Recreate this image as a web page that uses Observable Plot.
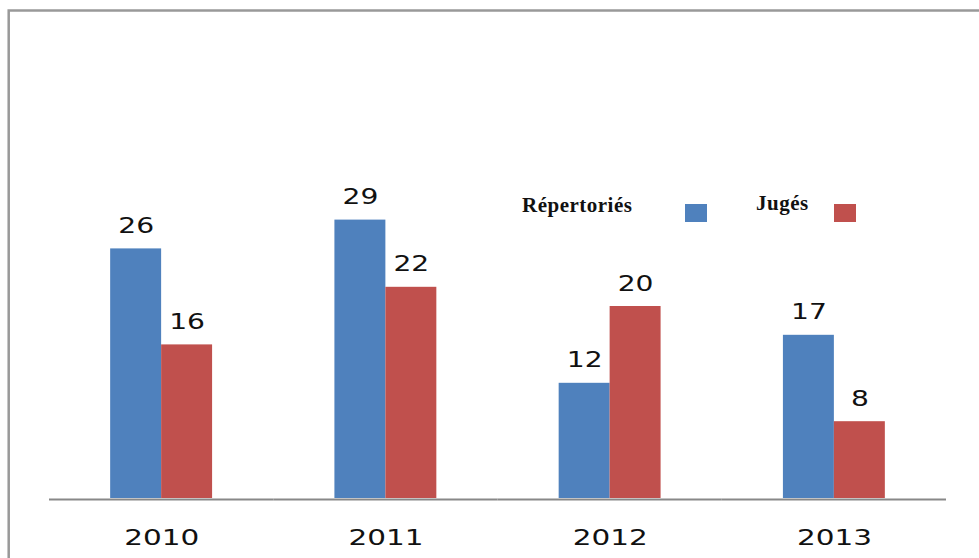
<!DOCTYPE html>
<html>
<head>
<meta charset="utf-8">
<script src="https://cdn.jsdelivr.net/npm/d3@7"></script>
<script src="https://cdn.jsdelivr.net/npm/@observablehq/plot@0.6"></script>
<style>
  html, body { margin: 0; padding: 0; background: #fff; overflow: hidden; }
  #chart { position: relative; width: 979px; height: 558px; }
</style>
</head>
<body>
<div id="chart"></div>
<script>
const years = ["2010", "2011", "2012", "2013"];
const repertories = [26, 29, 12, 17];
const juges = [16, 22, 20, 8];
const seriesNames = ["Répertoriés", "Jugés"];
const seriesColors = ["#4f81bd", "#c0504d"];

const data = years.flatMap((yr, i) => [
  {year: yr, series: seriesNames[0], value: repertories[i]},
  {year: yr, series: seriesNames[1], value: juges[i]}
]);

const chart = Plot.plot({
  width: 979,
  height: 558,
  marginLeft: 49,
  marginRight: 33,
  marginTop: 114,
  marginBottom: 60,
  style: {fontFamily: "'DejaVu Sans', sans-serif", background: "white", color: "black"},
  fx: {domain: years, padding: 0, label: null, axis: null, round: false},
  x: {domain: seriesNames, paddingInner: 0, paddingOuter: 1.2, axis: null, round: false},
  y: {domain: [0, 40], axis: null},
  color: {domain: seriesNames, range: seriesColors},
  marks: [
    Plot.barY(data, {fx: "year", x: "series", y: "value", fill: "series"}),
    Plot.text(data, {
      fx: "year", x: "series", y: "value",
      text: d => String(d.value),
      lineAnchor: "bottom", dy: -16,
      fontSize: 21, fill: "#111"
    }),
    Plot.ruleY([0], {stroke: "#888", strokeWidth: 2, dy: 1}),
    // year labels under each group
    Plot.text(years, {
      fx: d => d, text: d => d,
      frameAnchor: "bottom", lineAnchor: "bottom", dy: 46,
      fontSize: 22, fill: "#111"
    })
  ]
});

const svg = d3.select(chart);

// horizontally stretch the numeric labels (reference font is wide)
svg.selectAll('g[aria-label="text"] text').each(function () {
  const t = d3.select(this);
  const x = t.attr("x"), y = t.attr("y");
  let tr = t.attr("transform") || "";
  if (x != null || y != null) {
    tr = `${tr} translate(${x || 0},${y || 0})`;
    t.attr("x", null).attr("y", null);
  }
  t.attr("transform", `${tr} scale(1.34,1)`);
});

// frame border
svg.append("rect")
  .attr("x", 8.7).attr("y", 10.5)
  .attr("width", 2000).attr("height", 2000)
  .attr("fill", "none").attr("stroke", "#999").attr("stroke-width", 2.5);

// legend
const legend = [
  {label: seriesNames[0], color: seriesColors[0], tx: 522, ty: 212, sx: 685},
  {label: seriesNames[1], color: seriesColors[1], tx: 756, ty: 210, sx: 834}
];
for (const l of legend) {
  svg.append("text")
    .attr("x", l.tx).attr("y", l.ty)
    .attr("text-anchor", "start")
    .attr("font-family", "'Liberation Serif', 'Times New Roman', serif")
    .attr("font-weight", "bold")
    .attr("font-size", 21)
    .attr("letter-spacing", 0.5)
    .attr("fill", "#111")
    .text(l.label);
  svg.append("rect")
    .attr("x", l.sx).attr("y", 204)
    .attr("width", 22).attr("height", 18)
    .attr("fill", l.color);
}

document.getElementById("chart").appendChild(chart);
</script>
</body>
</html>
